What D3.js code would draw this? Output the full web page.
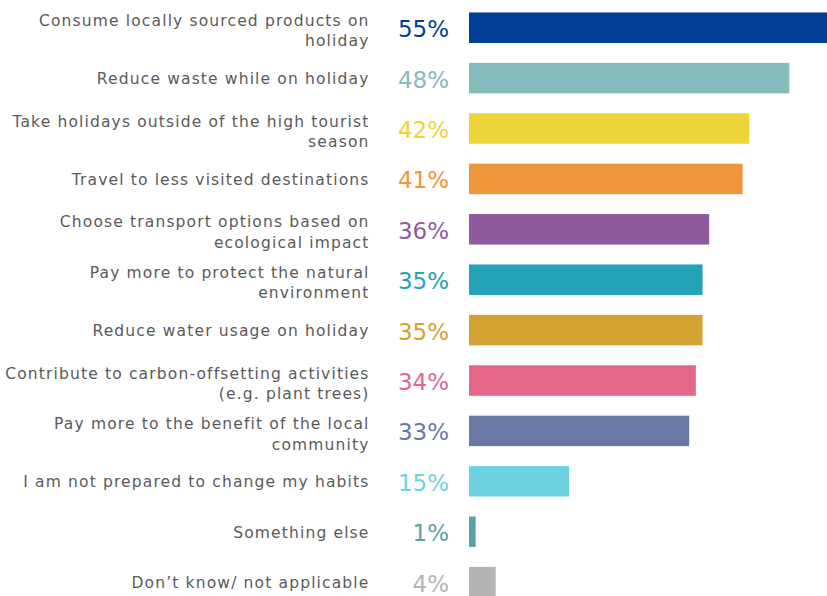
<!DOCTYPE html>
<html>
<head>
<meta charset="utf-8">
<script src="https://cdn.jsdelivr.net/npm/d3@7"></script>
<style>
  body { margin: 0; background: #fff; }
  svg { display: block; }
  .cat { font-family: "DejaVu Sans", Verdana, sans-serif; font-size: 15.5px; letter-spacing: 1.15px; fill: #5a5a5a; }
  .val { font-family: "DejaVu Sans", Verdana, sans-serif; font-size: 23px; font-weight: normal; }
</style>
</head>
<body>
<div id="chart"></div>
<script>
// categories (line breaks as in the original labels)
var categories = [
  "Consume locally sourced products on\nholiday",
  "Reduce waste while on holiday",
  "Take holidays outside of the high tourist\nseason",
  "Travel to less visited destinations",
  "Choose transport options based on\necological impact",
  "Pay more to protect the natural\nenvironment",
  "Reduce water usage on holiday",
  "Contribute to carbon-offsetting activities\n(e.g. plant trees)",
  "Pay more to the benefit of the local\ncommunity",
  "I am not prepared to change my habits",
  "Something else",
  "Don’t know/ not applicable"
];
var values = [55, 48, 42, 41, 36, 35, 35, 34, 33, 15, 1, 4];
var colors = ["#003f96", "#84bbbb", "#ecd43a", "#f0963a", "#8f5a9e", "#24a2b6",
              "#d4a232", "#e4678a", "#6a78a6", "#6dd3e2", "#5aa3a4", "#b4b4b4"];

var width = 827, height = 596;

var svg = d3.select("#chart").append("svg")
    .attr("width", width)
    .attr("height", height);

var x = d3.scaleLinear()
    .domain([0, 55])
    .range([469, 836]);

var y = d3.scaleBand()
    .domain(categories)
    .range([2.5, 607.3])
    .paddingInner(0.395)
    .paddingOuter(0.1975);

var row = svg.selectAll("g.row")
    .data(categories)
    .enter().append("g")
    .attr("class", "row");

// bars
row.append("rect")
    .attr("x", x(0))
    .attr("y", function(d) { return y(d); })
    .attr("width", function(d, i) { return x(values[i]) - x(0); })
    .attr("height", y.bandwidth())
    .attr("fill", function(d, i) { return colors[i]; });

// value labels
row.append("text")
    .attr("class", "val")
    .attr("x", 449)
    .attr("y", function(d) { return y(d) + y.bandwidth() / 2 + 9.5; })
    .attr("text-anchor", "end")
    .attr("fill", function(d, i) { return colors[i]; })
    .text(function(d, i) { return values[i] + "%"; });

// category labels
row.append("text")
    .attr("class", "cat")
    .attr("text-anchor", "end")
    .each(function(d) {
      var lines = d.split("\n"),
          cy = y(d) + y.bandwidth() / 2,
          t = d3.select(this);
      var start = lines.length > 1 ? cy - 2 : cy + 6;
      lines.forEach(function(l, k) {
        t.append("tspan")
          .attr("x", 369.5)
          .attr("y", start + k * 20.7)
          .text(l);
      });
    });
</script>
</body>
</html>
